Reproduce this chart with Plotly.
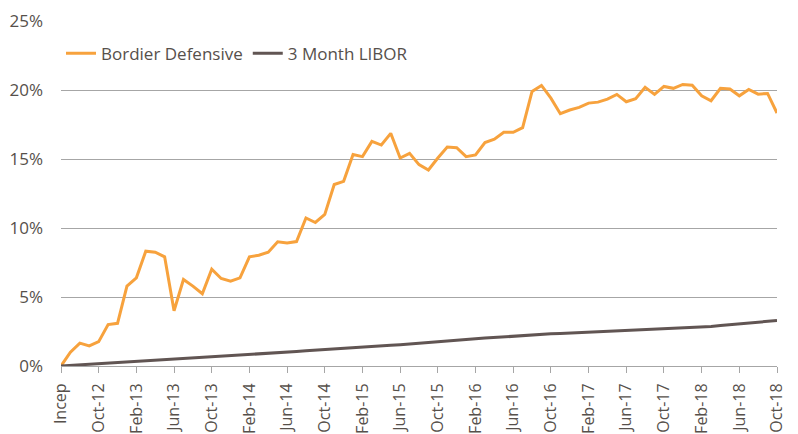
import plotly.graph_objects as go

month_labels = ["Incep"] + [
    f"{m}-{y:02d}"
    for y in range(12, 19)
    for m in ["Jan", "Feb", "Mar", "Apr", "May", "Jun", "Jul", "Aug", "Sep", "Oct", "Nov", "Dec"]
][6:82]
# months Jun-12 (Incep) .. Oct-18 -> 77 points
categories = month_labels[:77]

bordier_defensive = [
    0.00, 1.00, 1.66, 1.45, 1.76, 3.00, 3.09, 5.79, 6.39, 8.32,
    8.25, 7.91, 4.00, 6.27, 5.79, 5.24, 7.02, 6.34, 6.15, 6.39,
    7.91, 8.03, 8.25, 9.00, 8.92, 9.02, 10.73, 10.40, 10.98, 13.15,
    13.38, 15.32, 15.17, 16.28, 16.01, 16.86, 15.07, 15.41, 14.59, 14.20,
    15.07, 15.87, 15.82, 15.17, 15.30, 16.19, 16.43, 16.93, 16.93, 17.27,
    19.90, 20.33, 19.41, 18.28, 18.55, 18.74, 19.05, 19.12, 19.34, 19.68,
    19.15, 19.37, 20.19, 19.68, 20.26, 20.12, 20.40, 20.35, 19.58, 19.22,
    20.12, 20.07, 19.58, 20.04, 19.70, 19.75, 18.33,
]

libor_3m = [
    0.00, 0.04, 0.08, 0.12, 0.16, 0.22, 0.27, 0.30, 0.33, 0.36,
    0.40, 0.45, 0.50, 0.54, 0.58, 0.63, 0.68, 0.71, 0.74, 0.78,
    0.82, 0.86, 0.91, 0.96, 1.00, 1.05, 1.10, 1.15, 1.20, 1.24,
    1.28, 1.32, 1.36, 1.40, 1.45, 1.50, 1.54, 1.60, 1.66, 1.72,
    1.78, 1.82, 1.87, 1.92, 1.97, 2.02, 2.07, 2.12, 2.17, 2.22,
    2.27, 2.30, 2.33, 2.36, 2.39, 2.42, 2.45, 2.48, 2.51, 2.54,
    2.57, 2.60, 2.63, 2.66, 2.69, 2.72, 2.75, 2.78, 2.82, 2.87,
    2.93, 2.99, 3.06, 3.13, 3.20, 3.24, 3.30,
]

tick_labels = [categories[i] for i in range(0, 77, 4)]
y_ticks = [0, 5, 10, 15, 20, 25]
y_tick_labels = [f"{v}%" for v in y_ticks]

x_idx = list(range(len(categories)))

fig = go.Figure()
fig.add_trace(go.Scatter(
    x=x_idx, y=bordier_defensive, mode="lines", name="Bordier Defensive",
    line=dict(color="#F7A23D", width=3), text=categories,
))
fig.add_trace(go.Scatter(
    x=x_idx, y=libor_3m, mode="lines", name="3 Month LIBOR",
    line=dict(color="#615553", width=3), text=categories,
))

font_color = "#56504B"
fig.update_layout(
    template="none",
    width=790, height=426,
    margin=dict(l=53, r=21, t=13, b=68, autoexpand=False),
    paper_bgcolor="white", plot_bgcolor="white",
    font=dict(family="Open Sans, Lato, sans-serif", size=16, color=font_color),
    showlegend=True,
    legend=dict(
        orientation="h", x=0.0, xanchor="left", y=0.905, yanchor="middle",
        font=dict(size=17, color=font_color), bgcolor="rgba(0,0,0,0)",
        itemwidth=30, tracegroupgap=0,
    ),
    xaxis=dict(
        range=[0, 76], tickmode="array", tickvals=list(range(0, 77, 4)),
        ticktext=tick_labels, tickangle=-90, showgrid=False, zeroline=False,
        showline=True, linecolor="#A6A6A6", linewidth=1,
        ticks="outside", ticklen=6, tickcolor="#A6A6A6",
        automargin=False, ticklabelstandoff=4,
        tickfont=dict(size=16, color=font_color),
    ),
    yaxis=dict(
        range=[0, 25], tickmode="array", tickvals=y_ticks, ticktext=y_tick_labels,
        showgrid=True, gridcolor="#A6A6A6", gridwidth=1, zeroline=False,
        showline=False, ticks="", automargin=False, ticklabelstandoff=17,
        tickfont=dict(size=17, color=font_color),
    ),
)

fig.write_html("out.html")
